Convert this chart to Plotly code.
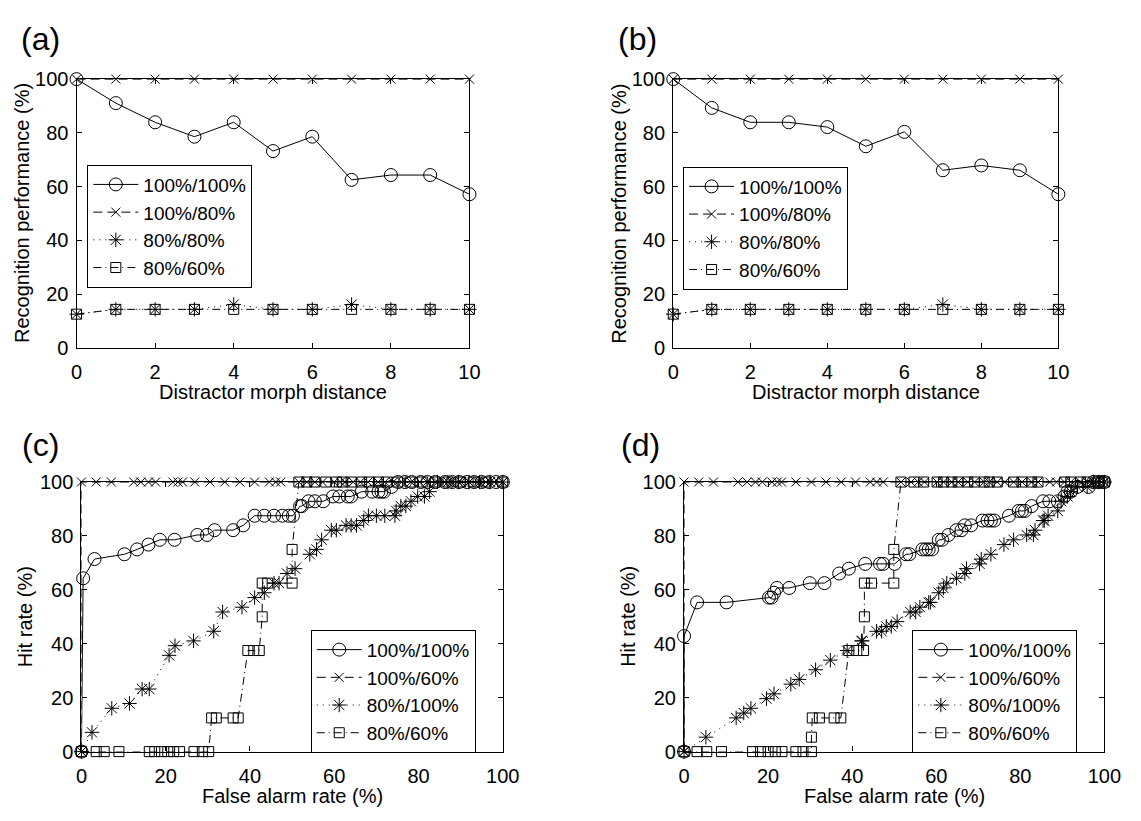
import plotly.graph_objects as go

# ---------------- (a) and (b): recognition vs distractor morph distance ----------------
morph_distance = [0, 1, 2, 3, 4, 5, 6, 7, 8, 9, 10]

a_100_100 = [100, 91.07, 83.93, 78.57, 83.93, 73.21, 78.57, 62.5, 64.29, 64.29, 57.14]
a_100_80 = [100, 100, 100, 100, 100, 100, 100, 100, 100, 100, 100]
a_80_80 = [12.5, 14.29, 14.29, 14.29, 16.07, 14.29, 14.29, 16.07, 14.29, 14.29, 14.29]
a_80_60 = [12.5, 14.29, 14.29, 14.29, 14.29, 14.29, 14.29, 14.29, 14.29, 14.29, 14.29]

b_100_100 = [100, 89.29, 83.93, 83.93, 82.14, 75.0, 80.36, 66.07, 67.86, 66.07, 57.14]
b_100_80 = [100, 100, 100, 100, 100, 100, 100, 100, 100, 100, 100]
b_80_80 = [12.5, 14.29, 14.29, 14.29, 14.29, 14.29, 14.29, 16.07, 14.29, 14.29, 14.29]
b_80_60 = [12.5, 14.29, 14.29, 14.29, 14.29, 14.29, 14.29, 14.29, 14.29, 14.29, 14.29]

ab_names = ["100%/100%", "100%/80%", "80%/80%", "80%/60%"]

# ---------------- (c): ROC curves ----------------
c_fa_100_100 = [0, 0.4, 3.1, 10.2, 13.2, 15.9, 18.6, 22.1, 27.5, 29.8, 31.6, 36.0, 38.4, 41.1, 43.4,
                45.7, 47.7, 49.2, 50.2, 51.9, 52.3, 53.9, 55.4, 57.4, 59.7, 61.2, 63.2, 64.0, 66.5,
                69.0, 70.5, 71.2, 71.8, 73.6, 75.2, 76.8, 78.4, 80.5, 82.1, 84.0, 86.3, 88.0, 89.6,
                91.5, 93.2, 95.0, 96.8, 98.4, 100]
c_hit_100_100 = [0, 64.29, 71.43, 73.21, 75.0, 76.79, 78.57, 78.57, 80.36, 80.36, 82.14, 82.14, 83.93,
                 87.5, 87.5, 87.5, 87.5, 87.5, 87.5, 91.07, 91.07, 92.86, 92.86, 92.86, 94.64, 94.64,
                 94.64, 94.64, 96.43, 96.43, 96.43, 96.43, 96.43, 98.21, 100, 100, 100, 100, 100, 100,
                 100, 100, 100, 100, 100, 100, 100, 100, 100]

c_fa_100_60 = [0, 0, 3.5, 7.1, 12.4, 14.1, 15.9, 17.6, 21.7, 22.9, 24.0, 26.9, 30.5, 34.0, 37.6, 41.1,
               44.6, 46.1, 47.3, 51.6, 53.5, 55.4, 57.2, 60.0, 61.5, 62.6, 64.5, 66.2, 68.0, 70.4,
               72.0, 74.0, 76.0, 78.2, 80.3, 82.0, 84.0, 86.2, 88.0, 90.1, 92.0, 94.0, 96.0, 98.0, 100]
c_hit_100_60 = [0, 100, 100, 100, 100, 100, 100, 100, 100, 100, 100, 100, 100, 100, 100, 100, 100,
                100, 100, 100, 100, 100, 100, 100, 100, 100, 100, 100, 100, 100, 100, 100, 100, 100,
                100, 100, 100, 100, 100, 100, 100, 100, 100, 100, 100]

c_fa_80_100 = [0, 2.5, 7.2, 11.4, 14.4, 16.1, 20.8, 22.2, 26.6, 31.4, 33.5, 38.1, 41.1, 43.4, 45.7,
               46.9, 48.8, 50.7, 54.2, 55.8, 57.0, 59.3, 60.5, 62.8, 64.0, 65.3, 67.0, 68.1, 70.0,
               72.0, 74.4, 74.7, 75.8, 77.0, 78.2, 79.8, 81.4, 82.6, 84.5, 87.0, 89.5, 92.0, 94.5,
               97.0, 100]
c_hit_80_100 = [0, 7.14, 16.07, 17.86, 23.21, 23.21, 35.71, 39.29, 41.07, 44.64, 51.79, 53.57, 57.14,
                58.93, 62.5, 62.5, 66.07, 67.86, 73.21, 75.0, 78.57, 82.14, 82.14, 83.93, 83.93, 83.93,
                85.71, 87.5, 87.5, 87.5, 87.5, 89.29, 91.07, 91.07, 92.86, 94.64, 94.64, 96.43, 100,
                100, 100, 100, 100, 100, 100]

c_fa_80_60 = [0, 3.5, 5.4, 8.9, 16.1, 17.4, 19.0, 20.5, 21.9, 23.3, 26.7, 28.7, 30.2, 30.9, 32.0,
              36.0, 37.2, 39.5, 40.9, 42.2, 42.9, 42.9, 44.2, 50.0, 50.0, 51.6, 53.5, 55.4, 58.0,
              60.5, 62.0, 64.0, 66.5, 68.4, 70.5, 72.5, 75.0, 78.0, 81.0, 84.0, 87.0, 90.0, 93.0,
              96.0, 100]
c_hit_80_60 = [0, 0, 0, 0, 0, 0, 0, 0, 0, 0, 0, 0, 0, 12.5, 12.5, 12.5, 12.5, 37.5, 37.5, 37.5, 50,
               62.5, 62.5, 62.5, 75, 100, 100, 100, 100, 100, 100, 100, 100, 100, 100, 100, 100,
               100, 100, 100, 100, 100, 100, 100, 100]

# ---------------- (d): ROC curves ----------------
d_fa_100_100 = [0, 0, 3.1, 10.1, 20.2, 20.8, 21.4, 22.1, 25.0, 29.9, 33.4, 36.9, 39.2, 43.1, 46.6,
                47.4, 50.1, 52.8, 53.6, 56.7, 57.5, 58.2, 59.0, 60.6, 61.4, 62.9, 64.8, 66.0, 66.8,
                68.3, 71.0, 72.2, 73.0, 73.8, 77.3, 79.6, 80.4, 81.1, 82.7, 85.4, 86.9, 88.9, 90.5,
                91.2, 92.0, 93.6, 96.3, 97.4, 98.5, 99.3, 100]
d_hit_100_100 = [0, 42.86, 55.36, 55.36, 57.14, 57.14, 58.93, 60.71, 60.71, 62.5, 62.5, 66.07, 67.86,
                 69.64, 69.64, 69.64, 69.64, 73.21, 73.21, 75.0, 75.0, 75.0, 75.0, 78.57, 78.57, 80.36,
                 82.14, 82.14, 83.93, 83.93, 85.71, 85.71, 85.71, 85.71, 87.5, 89.29, 89.29, 89.29,
                 91.07, 92.86, 92.86, 92.86, 94.64, 96.43, 96.43, 98.21, 98.21, 100, 100, 100, 100]

d_fa_100_60 = [0, 0, 3.5, 7.0, 12.8, 15.0, 17.0, 18.6, 20.9, 22.2, 23.2, 26.6, 30.3, 33.8, 37.4, 40.8,
               44.3, 45.8, 47.4, 51.6, 54.0, 55.7, 57.2, 60.2, 61.7, 63.7, 65.2, 67.5, 69.1, 71.4,
               72.6, 74.5, 76.3, 78.4, 80.4, 82.7, 84.2, 87.0, 88.6, 90.5, 92.0, 94.3, 95.9, 97.5,
               98.6, 100]
d_hit_100_60 = [0, 100, 100, 100, 100, 100, 100, 100, 100, 100, 100, 100, 100, 100, 100, 100, 100,
                100, 100, 100, 100, 100, 100, 100, 100, 100, 100, 100, 100, 100, 100, 100, 100, 100,
                100, 100, 100, 100, 100, 100, 100, 100, 100, 100, 100, 100]

d_fa_80_100 = [0, 5.2, 12.4, 14.2, 15.9, 19.6, 21.4, 25.4, 27.4, 31.3, 34.8, 38.8, 42.2, 42.4, 45.8,
               47.0, 48.1, 49.3, 50.7, 53.8, 55.1, 56.1, 58.2, 58.6, 60.6, 61.7, 62.5, 64.8, 66.8,
               67.2, 70.3, 70.7, 73.0, 76.1, 78.4, 81.5, 83.1, 83.5, 85.4, 85.7, 86.6, 88.9, 89.7,
               91.2, 92.0, 93.6, 95.9, 97.4, 98.6, 100]
d_hit_80_100 = [0, 5.36, 12.5, 14.29, 16.07, 19.64, 21.43, 25.0, 26.79, 30.36, 33.93, 37.5, 41.07,
                41.07, 44.64, 44.64, 46.43, 46.43, 48.21, 51.79, 51.79, 53.57, 55.36, 55.36, 58.93,
                60.71, 62.5, 64.29, 66.07, 67.86, 69.64, 71.43, 73.21, 76.79, 78.57, 80.36, 80.36,
                82.14, 85.71, 85.71, 87.5, 89.29, 92.86, 94.64, 96.43, 98.21, 98.21, 100, 100, 100]

d_fa_80_60 = [0, 3.1, 5.4, 8.9, 16.3, 18.2, 20.0, 21.7, 23.3, 26.6, 28.3, 30.3, 30.3, 30.5, 32.2,
              35.7, 37.3, 39.2, 41.1, 42.7, 42.9, 42.9, 44.6, 49.9, 49.9, 51.6, 54.7, 57.0, 60.2,
              61.7, 63.7, 65.2, 67.5, 69.1, 71.4, 72.6, 74.5, 78.4, 80.4, 82.7, 84.2, 90.5, 92.0,
              94.3, 95.9, 98.6, 100]
d_hit_80_60 = [0, 0, 0, 0, 0, 0, 0, 0, 0, 0, 0, 0, 5.36, 12.5, 12.5, 12.5, 12.5, 37.5, 37.5, 37.5,
               50, 62.5, 62.5, 62.5, 75, 100, 100, 100, 100, 100, 100, 100, 100, 100, 100, 100, 100,
               100, 100, 100, 100, 100, 100, 100, 100, 100, 100]

cd_names = ["100%/100%", "100%/60%", "80%/100%", "80%/60%"]

# ---------------- styling ----------------
FONT = "Liberation Sans, Arial, Helvetica, sans-serif"
INK = "black"
TEXT_SIZE = 20
LEGEND_SIZE = 19

# marker symbol, marker size, line dash for the four conditions
series_style = [
    ("circle-open", 13, "solid"),
    ("x-thin-open", 9, "9px,5px"),
    ("asterisk-open", 12, "1px,5px"),
    ("square-open", 10, "8px,4px,1px,4px"),
]

fig = go.Figure()


def add_panel(xs_list, ys_list, names, xa, ya, legend_id):
    for xs, ys, name, (sym, size, dash) in zip(xs_list, ys_list, names, series_style):
        fig.add_trace(go.Scatter(
            x=xs, y=ys, name=name, mode="lines+markers",
            line=dict(color=INK, width=1, dash=dash),
            marker=dict(symbol=sym, size=size, color=INK,
                        line=dict(color=INK, width=1)),
            xaxis=xa, yaxis=ya, legend=legend_id, cliponaxis=False,
        ))


add_panel([morph_distance] * 4, [a_100_100, a_100_80, a_80_80, a_80_60], ab_names, "x", "y", "legend")
add_panel([morph_distance] * 4, [b_100_100, b_100_80, b_80_80, b_80_60], ab_names, "x2", "y2", "legend2")
add_panel([c_fa_100_100, c_fa_100_60, c_fa_80_100, c_fa_80_60],
          [c_hit_100_100, c_hit_100_60, c_hit_80_100, c_hit_80_60], cd_names, "x3", "y3", "legend3")
add_panel([d_fa_100_100, d_fa_100_60, d_fa_80_100, d_fa_80_60],
          [d_hit_100_100, d_hit_100_60, d_hit_80_100, d_hit_80_60], cd_names, "x4", "y4", "legend4")

W, H = 1141, 821


def px_x(a, b):
    return [a / W, b / W]


def px_y(top, bottom):
    return [1 - bottom / H, 1 - top / H]


axis_common = dict(
    showline=True, linecolor=INK, linewidth=1.3, mirror="ticks",
    ticks="inside", ticklen=5, tickwidth=1, tickcolor=INK,
    showgrid=False, zeroline=False,
    tickfont=dict(family=FONT, size=TEXT_SIZE, color=INK),
)

panels = [
    # x axis, y axis, x extent px, y extent px, x range, x ticks, anchors
    ("xaxis", "yaxis", (72, 473), (70, 346), [0, 10], [0, 2, 4, 6, 8, 10], "y", "x"),
    ("xaxis2", "yaxis2", (681, 1074), (70, 346), [0, 10], [0, 2, 4, 6, 8, 10], "y2", "x2"),
    ("xaxis3", "yaxis3", (77, 507), (484, 761), [0, 100], [0, 20, 40, 60, 80, 100], "y3", "x3"),
    ("xaxis4", "yaxis4", (692, 1121), (484, 761), [0, 100], [0, 20, 40, 60, 80, 100], "y4", "x4"),
]

layout_axes = {}
for xk, yk, (xl, xr), (yt, yb), xr_, xt, anchor_y, anchor_x in panels:
    layout_axes[xk] = dict(axis_common, domain=px_x(xl, xr), range=xr_, tickvals=xt,
                           anchor=anchor_y, ticklabelstandoff=6)
    layout_axes[yk] = dict(axis_common, domain=px_y(yt, yb), range=[0, 100],
                           tickvals=[0, 20, 40, 60, 80, 100], anchor=anchor_x,
                           ticklabelstandoff=3)

legend_common = dict(
    font=dict(family=FONT, size=LEGEND_SIZE, color=INK),
    bgcolor="white", bordercolor=INK, borderwidth=1,
    xanchor="left", yanchor="middle", itemwidth=45, tracegroupgap=0,
    traceorder="normal",
)

fig.update_layout(
    width=W, height=H,
    margin=dict(l=0, r=0, t=0, b=0),
    paper_bgcolor="white", plot_bgcolor="white",
    font=dict(family=FONT, size=TEXT_SIZE, color=INK),
    legend=dict(legend_common, x=83 / W, y=1 - 221 / H),
    legend2=dict(legend_common, x=691 / W, y=1 - 223 / H),
    legend3=dict(legend_common, x=311 / W, y=1 - 699 / H),
    legend4=dict(legend_common, x=925 / W, y=1 - 699 / H),
    **layout_axes,
)

# axis titles and panel letters
title_font = dict(family=FONT, size=TEXT_SIZE, color=INK)
annotations = []
axis_titles = [
    ("x", "y", "Distractor morph distance", "Recognition performance (%)", -54),
    ("x2", "y2", "Distractor morph distance", "Recognition performance (%)", -54),
    ("x3", "y3", "False alarm rate (%)", "Hit rate (%)", -57),
    ("x4", "y4", "False alarm rate (%)", "Hit rate (%)", -56),
]
for xa, ya, xt, yt, ysh in axis_titles:
    annotations.append(dict(text=xt, xref=f"{xa} domain", yref=f"{ya} domain", x=0.5, y=0,
                            yshift=-44, xanchor="center", yanchor="middle", showarrow=False,
                            font=title_font))
    annotations.append(dict(text=yt, xref=f"{xa} domain", yref=f"{ya} domain", x=0, y=0.5,
                            xshift=ysh, xanchor="center", yanchor="middle", textangle=-90,
                            showarrow=False, font=title_font))

letters = [("(a)", 35, 29), ("(b)", 645, 29), ("(c)", 35, 446), ("(d)", 648, 446)]
for txt, cx, cy in letters:
    annotations.append(dict(text=txt, xref="paper", yref="paper", x=cx / W, y=1 - cy / H,
                            xanchor="center", yanchor="middle", showarrow=False,
                            font=dict(family=FONT, size=32, color=INK)))

fig.update_layout(annotations=annotations)

fig.write_html("out.html")
